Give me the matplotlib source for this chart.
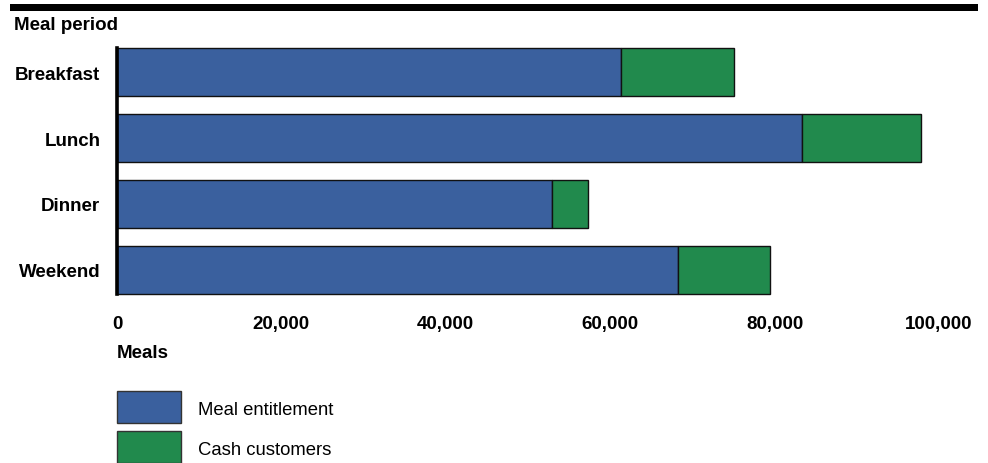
import matplotlib
matplotlib.use("Agg")
import matplotlib.pyplot as plt
from matplotlib.patches import Rectangle
from matplotlib.ticker import FuncFormatter

plt.rcParams['font.family'] = ['Liberation Sans', 'DejaVu Sans']

categories = ["Breakfast", "Lunch", "Dinner", "Weekend"]
entitlement = [61300, 83300, 52900, 68200]
cash = [13800, 14500, 4400, 11300]
series_names = ["Meal entitlement", "Cash customers"]
xticks = [0, 20000, 40000, 60000, 80000, 100000]

BLUE = "#3A609E"
GREEN = "#218A4D"
colors = [BLUE, GREEN]
FS = 13.5
FS_LEG = 13.3

W, H = 988, 464
fig = plt.figure(figsize=(W / 100, H / 100), dpi=100)

ax_left, ax_right = 117, 939
ax_top, ax_bot = 40, 304
ax = fig.add_axes([ax_left / W, 1 - ax_bot / H, (ax_right - ax_left) / W, (ax_bot - ax_top) / H])

ypos = list(range(len(categories)))
bh = 48 / 66
ax.barh(ypos, entitlement, height=bh, color=BLUE, edgecolor="#111111", linewidth=1.0)
ax.barh(ypos, cash, left=entitlement, height=bh, color=GREEN, edgecolor="#111111", linewidth=1.0)

ax.set_xlim(0, 100000)
ax.set_ylim(len(categories) - 0.5, -0.5)
ax.set_yticks(ypos)
ax.set_yticklabels(categories, fontsize=FS, fontweight="bold")
ax.set_xticks(xticks)
ax.xaxis.set_major_formatter(FuncFormatter(lambda v, p: f"{int(v):,}"))
for lab in ax.get_xticklabels():
    lab.set_fontweight("bold")
    lab.set_fontsize(FS)
ax.tick_params(axis="both", length=0)
ax.tick_params(axis="y", pad=12)
ax.tick_params(axis="x", pad=9)

for s in ["top", "right", "bottom"]:
    ax.spines[s].set_visible(False)
ax.spines["left"].set_linewidth(2.6)
ax.spines["left"].set_color("black")
ax.spines["left"].set_bounds(len(categories) - 1 + bh / 2, -bh / 2)
ax.spines["left"].set_zorder(5)

# Top rule
fig.add_artist(Rectangle((10 / W, 1 - 12 / H), (978 - 10) / W, 7 / H,
                         transform=fig.transFigure, color="black", linewidth=0))

fig.text(14 / W, 1 - 26 / H, "Meal period", fontsize=FS, fontweight="bold",
         ha="left", va="center")
fig.text(117 / W, 1 - 354 / H, "Meals", fontsize=FS, fontweight="bold",
         ha="left", va="center")

# Legend (manual layout)
leg_x, leg_top, sw_w, sw_h, step = 117, 392, 64, 32, 40
for i, (name, col) in enumerate(zip(series_names, colors)):
    top = leg_top + i * step
    fig.add_artist(Rectangle((leg_x / W, 1 - (top + sw_h) / H), sw_w / W, sw_h / H,
                             transform=fig.transFigure, facecolor=col,
                             edgecolor="#333333", linewidth=1.0))
    fig.text((leg_x + sw_w + 17) / W, 1 - (top + sw_h / 2 + 3) / H, name,
             fontsize=FS_LEG, ha="left", va="center")

fig.savefig("out.png", dpi=100)
